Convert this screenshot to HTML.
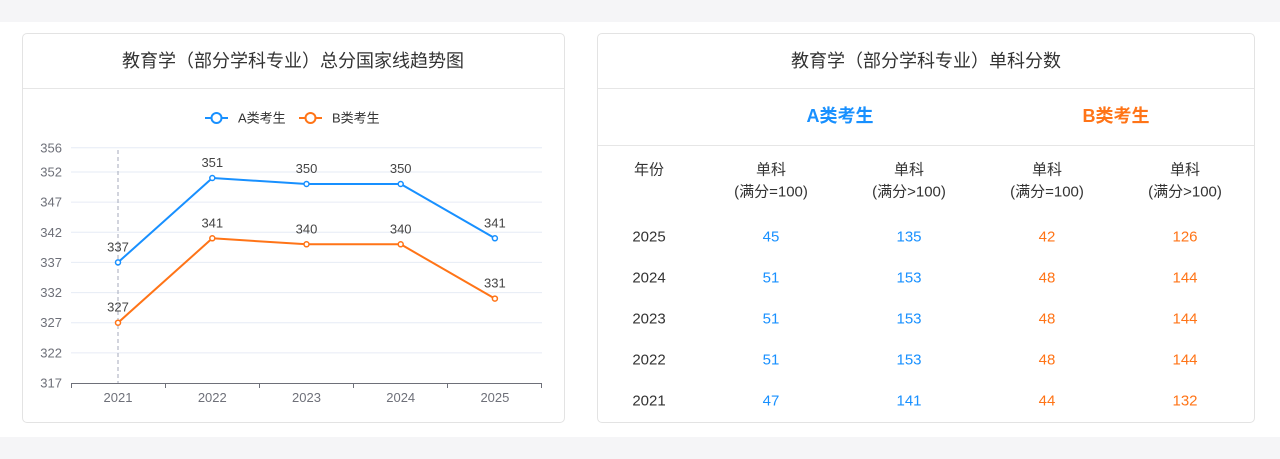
<!DOCTYPE html>
<html><head><meta charset="utf-8"><style>
*{margin:0;padding:0;box-sizing:border-box}
html,body{width:1280px;height:459px;overflow:hidden;background:#fff;font-family:"Liberation Sans","Noto Sans CJK SC",sans-serif}
.band{position:absolute;left:0;width:1280px;background:#f5f5f7}
.panel{position:absolute;top:33px;height:390px;border:1px solid #e3e3e3;border-radius:5px;background:#fff}
.hr{position:absolute;height:1px;background:#e6e6e6}
.t{position:absolute;white-space:nowrap;transform:translate(-50%,-50%);line-height:1}
.title{font-size:18px;color:#333}
.h{font-size:15px;color:#333}
.v{font-size:15px}
.a{color:#1890ff}.b{color:#ff7417}.y{color:#333}
</style></head><body>
<div class="band" style="top:0;height:22px"></div>
<div class="band" style="top:437px;height:22px"></div>

<div class="panel" style="left:22px;width:543px"></div>
<div class="hr" style="left:23px;width:541px;top:88px"></div>
<div class="t title" style="left:293px;top:61px">教育学（部分学科专业）总分国家线趋势图</div>

<svg style="position:absolute;left:0;top:0" width="1280" height="459" xmlns="http://www.w3.org/2000/svg" font-family="Liberation Sans, Noto Sans CJK SC, sans-serif">
<!-- legend -->
<line x1="205" y1="118" x2="228" y2="118" stroke="#1890ff" stroke-width="2"/>
<circle cx="216.5" cy="118" r="5" fill="#fff" stroke="#1890ff" stroke-width="2"/>
<text x="238" y="122.5" font-size="13" fill="#333">A类考生</text>
<line x1="299" y1="118" x2="322" y2="118" stroke="#ff7417" stroke-width="2"/>
<circle cx="310.5" cy="118" r="5" fill="#fff" stroke="#ff7417" stroke-width="2"/>
<text x="332" y="122.5" font-size="13" fill="#333">B类考生</text>
<!-- grid -->
<g stroke="#e6ebf5" stroke-width="1">
<line x1="71" x2="542" y1="147.8" y2="147.8"/>
<line x1="71" x2="542" y1="172" y2="172"/>
<line x1="71" x2="542" y1="202.1" y2="202.1"/>
<line x1="71" x2="542" y1="232.3" y2="232.3"/>
<line x1="71" x2="542" y1="262.4" y2="262.4"/>
<line x1="71" x2="542" y1="292.6" y2="292.6"/>
<line x1="71" x2="542" y1="322.7" y2="322.7"/>
<line x1="71" x2="542" y1="352.9" y2="352.9"/>
</g>
<g font-size="13" fill="#6e7079" text-anchor="end">
<text x="62" y="152.3">356</text>
<text x="62" y="176.5">352</text>
<text x="62" y="206.6">347</text>
<text x="62" y="236.8">342</text>
<text x="62" y="266.9">337</text>
<text x="62" y="297.1">332</text>
<text x="62" y="327.2">327</text>
<text x="62" y="357.4">322</text>
<text x="62" y="387.5">317</text>
</g>
<line x1="118" y1="150" x2="118" y2="383" stroke="#a4aabb" stroke-width="1" stroke-dasharray="4 3"/>
<line x1="71" y1="383.5" x2="542" y2="383.5" stroke="#6e7079" stroke-width="1"/>
<g stroke="#6e7079" stroke-width="1">
<line x1="71.5" y1="383" x2="71.5" y2="388"/>
<line x1="165.5" y1="383" x2="165.5" y2="388"/>
<line x1="259.5" y1="383" x2="259.5" y2="388"/>
<line x1="353.5" y1="383" x2="353.5" y2="388"/>
<line x1="447.5" y1="383" x2="447.5" y2="388"/>
<line x1="541.5" y1="383" x2="541.5" y2="388"/>
</g>
<g font-size="13" fill="#6e7079" text-anchor="middle">
<text x="118" y="402">2021</text>
<text x="212.3" y="402">2022</text>
<text x="306.5" y="402">2023</text>
<text x="400.7" y="402">2024</text>
<text x="494.9" y="402">2025</text>
</g>
<!-- series A -->
<polyline points="118,262.4 212.3,178 306.5,184 400.7,184 494.9,238.3" fill="none" stroke="#1890ff" stroke-width="2" stroke-linejoin="round"/>
<g fill="#fff" stroke="#1890ff" stroke-width="1.5">
<circle cx="118" cy="262.4" r="2.5"/><circle cx="212.3" cy="178" r="2.5"/><circle cx="306.5" cy="184" r="2.5"/><circle cx="400.7" cy="184" r="2.5"/><circle cx="494.9" cy="238.3" r="2.5"/>
</g>
<!-- series B -->
<polyline points="118,322.7 212.3,238.3 306.5,244.3 400.7,244.3 494.9,298.6" fill="none" stroke="#ff7417" stroke-width="2" stroke-linejoin="round"/>
<g fill="#fff" stroke="#ff7417" stroke-width="1.5">
<circle cx="118" cy="322.7" r="2.5"/><circle cx="212.3" cy="238.3" r="2.5"/><circle cx="306.5" cy="244.3" r="2.5"/><circle cx="400.7" cy="244.3" r="2.5"/><circle cx="494.9" cy="298.6" r="2.5"/>
</g>
<g font-size="13" fill="#444" text-anchor="middle">
<text x="118" y="251.5">337</text>
<text x="212.3" y="167">351</text>
<text x="306.5" y="173">350</text>
<text x="400.7" y="173">350</text>
<text x="494.9" y="227.3">341</text>
<text x="118" y="311.7">327</text>
<text x="212.3" y="227.3">341</text>
<text x="306.5" y="233.3">340</text>
<text x="400.7" y="233.3">340</text>
<text x="494.9" y="287.6">331</text>
</g>
</svg>

<div class="panel" style="left:597px;width:658px"></div>
<div class="hr" style="left:598px;width:656px;top:88px"></div>
<div class="hr" style="left:598px;width:656px;top:145px"></div>
<div class="t title" style="left:926px;top:61px">教育学（部分学科专业）单科分数</div>
<div class="t a" style="left:840px;top:116px;font-size:18px;font-weight:bold">A类考生</div>
<div class="t b" style="left:1116px;top:116px;font-size:18px;font-weight:bold">B类考生</div>

<div class="t h" style="left:649px;top:170px">年份</div>
<div class="t h" style="left:771px;top:170px">单科</div>
<div class="t h" style="left:771px;top:192px">(满分=100)</div>
<div class="t h" style="left:909px;top:170px">单科</div>
<div class="t h" style="left:909px;top:192px">(满分&gt;100)</div>
<div class="t h" style="left:1047px;top:170px">单科</div>
<div class="t h" style="left:1047px;top:192px">(满分=100)</div>
<div class="t h" style="left:1185px;top:170px">单科</div>
<div class="t h" style="left:1185px;top:192px">(满分&gt;100)</div>

<div class="t v y" style="left:649px;top:237px">2025</div>
<div class="t v a" style="left:771px;top:237px">45</div>
<div class="t v a" style="left:909px;top:237px">135</div>
<div class="t v b" style="left:1047px;top:237px">42</div>
<div class="t v b" style="left:1185px;top:237px">126</div>

<div class="t v y" style="left:649px;top:278px">2024</div>
<div class="t v a" style="left:771px;top:278px">51</div>
<div class="t v a" style="left:909px;top:278px">153</div>
<div class="t v b" style="left:1047px;top:278px">48</div>
<div class="t v b" style="left:1185px;top:278px">144</div>

<div class="t v y" style="left:649px;top:319px">2023</div>
<div class="t v a" style="left:771px;top:319px">51</div>
<div class="t v a" style="left:909px;top:319px">153</div>
<div class="t v b" style="left:1047px;top:319px">48</div>
<div class="t v b" style="left:1185px;top:319px">144</div>

<div class="t v y" style="left:649px;top:360px">2022</div>
<div class="t v a" style="left:771px;top:360px">51</div>
<div class="t v a" style="left:909px;top:360px">153</div>
<div class="t v b" style="left:1047px;top:360px">48</div>
<div class="t v b" style="left:1185px;top:360px">144</div>

<div class="t v y" style="left:649px;top:401px">2021</div>
<div class="t v a" style="left:771px;top:401px">47</div>
<div class="t v a" style="left:909px;top:401px">141</div>
<div class="t v b" style="left:1047px;top:401px">44</div>
<div class="t v b" style="left:1185px;top:401px">132</div>
</body></html>
